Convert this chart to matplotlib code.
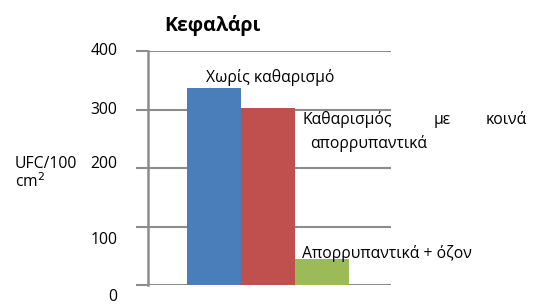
import matplotlib.pyplot as plt
import matplotlib.transforms as mtransforms

plt.rcParams['font.family'] = ['Open Sans', 'DejaVu Sans']

categories = ['Χωρίς καθαρισμό', 'Καθαρισμός με κοινά απορρυπαντικά', 'Απορρυπαντικά + όζον']
values = [336, 303, 44]
colors = ['#4a7ebb', '#c0504d', '#9bbb59']
yticks = [0, 100, 200, 300, 400]

fig = plt.figure(figsize=(5.4, 3.04), dpi=100)
ax = fig.add_axes([148 / 540, 1 - 285 / 304, (391 - 148) / 540, (285 - 51) / 304])

x = list(range(len(values)))
ax.bar(x, values, width=1.0, color=colors, zorder=3)
ax.set_xlim(-1.22, 3.28)
ax.set_ylim(0, 400)

ax.set_yticks(yticks)
ax.set_yticklabels([])
ax.grid(axis='y', color='#8c8c8c', linewidth=1.5, zorder=0)
ax.tick_params(axis='y', length=8.5, width=1.5, color='#8c8c8c')
ax.tick_params(axis='x', length=0, labelbottom=False)
for s in ['top', 'right', 'bottom']:
    ax.spines[s].set_visible(False)
ax.spines['left'].set_color('#8c8c8c')
ax.spines['left'].set_linewidth(1.8)

fs = 11.3

# tick labels, placed like in the original (some pushed down)
trans = mtransforms.blended_transform_factory(ax.transAxes, ax.transData)
offsets = {0: -8.5, 100: -10, 200: 3, 300: 0, 400: 0}
for t in yticks:
    ax.annotate(str(t), xy=(0, t), xycoords=trans, xytext=(-22, offsets[t]),
                textcoords='offset points', ha='right', va='center', fontsize=fs)
# y axis title sits on the left, sharing the line with the 200 label
ax.annotate('UFC/100', xy=(0, 200), xycoords=trans, xytext=(-96, 3),
            textcoords='offset points', ha='left', va='center', fontsize=fs)
ax.annotate('cm$^2$', xy=(0, 200), xycoords=trans, xytext=(-96, -10),
            textcoords='offset points', ha='left', va='center', fontsize=fs)

fig.text(212 / 540, 1 - 25 / 304, 'Κεφαλάρι', ha='center', va='center',
         fontsize=14, fontweight='bold')

# category labels next to the bars
fig.text(206 / 540, 1 - 78 / 304, categories[0], ha='left', va='center', fontsize=fs)
fig.text(302 / 540, 1 - 120 / 304, 'Καθαρισμός', ha='left', va='center', fontsize=fs)
fig.text(442 / 540, 1 - 120 / 304, 'με', ha='center', va='center', fontsize=fs)
fig.text(527 / 540, 1 - 120 / 304, 'κοινά', ha='right', va='center', fontsize=fs)
fig.text(310 / 540, 1 - 143 / 304, 'απορρυπαντικά', ha='left', va='center', fontsize=fs)
fig.text(302 / 540, 1 - 254 / 304, categories[2], ha='left', va='center', fontsize=fs)

fig.savefig('out.png', dpi=100)
